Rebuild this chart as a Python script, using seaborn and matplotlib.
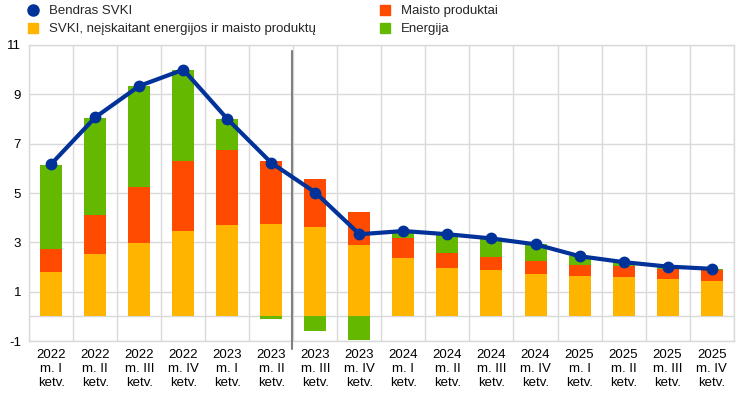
import numpy as np
import pandas as pd
import matplotlib
matplotlib.use("Agg")
import matplotlib.pyplot as plt
import seaborn as sns
from matplotlib.lines import Line2D

# quarter labels (year / quarter)
years = ["2022", "2022", "2022", "2022", "2023", "2023", "2023", "2023",
         "2024", "2024", "2024", "2024", "2025", "2025", "2025", "2025"]
quarters = ["I", "II", "III", "IV"] * 4
labels = [f"{y}\nm. {q}\nketv." for y, q in zip(years, quarters)]

# components (percentage points) and headline HICP
core = [1.80, 2.51, 2.99, 3.46, 3.71, 3.75, 3.63, 2.89,
        2.38, 1.97, 1.89, 1.72, 1.62, 1.59, 1.51, 1.44]
food = [0.92, 1.60, 2.25, 2.83, 3.05, 2.54, 1.95, 1.33,
        0.81, 0.61, 0.50, 0.52, 0.47, 0.46, 0.42, 0.46]
energy = [3.43, 3.94, 4.10, 3.69, 1.26, -0.09, -0.61, -0.94,
          0.26, 0.75, 0.77, 0.68, 0.35, 0.15, 0.09, 0.03]
headline = [6.18, 8.07, 9.34, 10.0, 8.0, 6.22, 5.02, 3.33,
            3.46, 3.33, 3.16, 2.92, 2.44, 2.20, 2.02, 1.93]

C_CORE = "#FFB400"
C_FOOD = "#FF4B00"
C_ENERGY = "#65B800"
C_LINE = "#003299"
C_GRID = "#D9D9D9"

sns.set_theme(style="white")
plt.rcParams["font.family"] = ["Liberation Sans", "DejaVu Sans"]
plt.rcParams["font.size"] = 9.5
plt.rcParams["axes.unicode_minus"] = False

df = pd.DataFrame({"quarter": labels, "core": core, "food": food, "energy": energy,
                   "headline": headline})
df["cf"] = df["core"] + df["food"]
df["pos_top"] = df["cf"] + df["energy"].clip(lower=0)
df["neg_energy"] = df["energy"].clip(upper=0)

fig = plt.figure(figsize=(7.44, 3.98), dpi=100)
ax = fig.add_axes([0.0394, 0.143, 0.9466, 0.744])

# stacked bars drawn as overlapping cumulative layers
bar_kw = dict(x="quarter", order=labels, width=0.5, linewidth=0, ax=ax, zorder=2)
sns.barplot(data=df, y="pos_top", color=C_ENERGY, saturation=1, **bar_kw)
sns.barplot(data=df, y="neg_energy", color=C_ENERGY, saturation=1, **bar_kw)
sns.barplot(data=df, y="cf", color=C_FOOD, saturation=1, **bar_kw)
sns.barplot(data=df, y="core", color=C_CORE, saturation=1, **bar_kw)

sns.lineplot(x=np.arange(len(labels)), y=df["headline"].values, color=C_LINE,
             linewidth=3, marker="o", markersize=8.5, markeredgewidth=0,
             legend=False, ax=ax, zorder=4)

ax.set_xlim(-0.5, len(labels) - 0.5)
ax.set_ylim(-1, 11)
ax.set_yticks([-1, 1, 3, 5, 7, 9, 11])
ax.set_xticks(np.arange(len(labels)))
ax.set_xticklabels(labels, fontsize=9.5, linespacing=1.2)
ax.set_xlabel("")
ax.set_ylabel("")
ax.tick_params(axis="both", length=0, labelsize=9.5, colors="black")
ax.tick_params(axis="x", pad=6)
ax.tick_params(axis="y", pad=6)

# grid: horizontal at ticks + zero, vertical between categories
for yv in [-1, 0, 1, 3, 5, 7, 9, 11]:
    ax.axhline(yv, color=C_GRID, linewidth=1, zorder=0)
for xv in np.arange(-0.5, len(labels), 1.0):
    ax.axvline(xv, color=C_GRID, linewidth=1, zorder=0)
for sp in ax.spines.values():
    sp.set_color(C_GRID)
    sp.set_linewidth(1)

# projection start marker
ax.plot([5.46, 5.46], [-1.32, 10.77], color="#808080", linewidth=1.5,
        clip_on=False, zorder=3)

h1 = [Line2D([], [], marker="o", color=C_LINE, linestyle="none", markersize=8),
      Line2D([], [], marker="s", color=C_CORE, linestyle="none", markersize=7.5)]
h2 = [Line2D([], [], marker="s", color=C_FOOD, linestyle="none", markersize=7.5),
      Line2D([], [], marker="s", color=C_ENERGY, linestyle="none", markersize=7.5)]
leg_kw = dict(loc="upper left", frameon=False, borderpad=0, borderaxespad=0,
              handlelength=1.0, handletextpad=0.75, labelspacing=0.42, fontsize=9.5)
fig.legend(h1, ["Bendras SVKI", "SVKI, neįskaitant energijos ir maisto produktų"],
           bbox_to_anchor=(26 / 744, 0.987), **leg_kw)
fig.legend(h2, ["Maisto produktai", "Energija"],
           bbox_to_anchor=(378 / 744, 0.987), **leg_kw)

fig.savefig("out.png", dpi=100)
